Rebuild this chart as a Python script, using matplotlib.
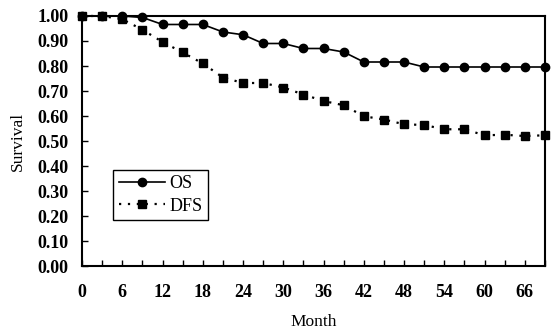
import matplotlib
matplotlib.use("Agg")
import matplotlib.pyplot as plt
from matplotlib.ticker import MultipleLocator, FormatStrFormatter

months = list(range(0, 70, 3))
os_surv = [1.00, 1.00, 1.00, 0.994, 0.966, 0.966, 0.966, 0.936, 0.925, 0.89,
           0.89, 0.87, 0.87, 0.856, 0.816, 0.816, 0.816, 0.796, 0.796, 0.796,
           0.796, 0.796, 0.796, 0.796]
dfs_surv = [1.00, 1.00, 0.987, 0.945, 0.896, 0.854, 0.81, 0.754, 0.732, 0.732,
            0.714, 0.686, 0.66, 0.643, 0.599, 0.586, 0.567, 0.564, 0.547, 0.547,
            0.523, 0.525, 0.52, 0.523]
xticks = [0, 6, 12, 18, 24, 30, 36, 42, 48, 54, 60, 66]

plt.rcParams['font.family'] = ['Liberation Serif', 'DejaVu Serif']

fig = plt.figure(figsize=(5.51, 3.33), dpi=100)
ax = fig.add_axes([0.149, 0.201, 0.840, 0.751])

ax.plot(months, os_surv, color='black', lw=1.2, marker='o', ms=6, label='OS', clip_on=False)
ax.plot(months, dfs_surv, color='black', lw=1.6, ls=(0, (1, 3)), marker='s', ms=6,
        label='DFS', clip_on=False)

ax.set_xlim(0, 69)
ax.set_ylim(0, 1.0)
ax.set_xticks(xticks)
ax.xaxis.set_minor_locator(MultipleLocator(3))
ax.yaxis.set_major_locator(MultipleLocator(0.1))
ax.yaxis.set_major_formatter(FormatStrFormatter('%.2f'))
ax.tick_params(axis='both', which='both', direction='in', length=4, width=1)
ax.tick_params(axis='x', which='major', pad=13)
ax.tick_params(axis='y', which='major', pad=10)
ax.tick_params(axis='x', which='minor', length=4)
for lab in ax.get_xticklabels() + ax.get_yticklabels():
    lab.set_fontsize(13)
    lab.set_fontweight('bold')

for side in ['left', 'bottom', 'right', 'top']:
    ax.spines[side].set_linewidth(1.5)

ax.set_xlabel('Month', fontsize=12.5, labelpad=9)
ax.set_ylabel('Survival', fontsize=12.5, labelpad=8)

leg = ax.legend(loc='lower left', bbox_to_anchor=(0.067, 0.184), fontsize=13,
                frameon=True, fancybox=False, edgecolor='black', framealpha=1,
                handlelength=2.6, borderpad=0.3, labelspacing=0.3, handletextpad=0.2,
                borderaxespad=0)
leg.get_frame().set_linewidth(1.0)

fig.savefig('out.png', dpi=100)
